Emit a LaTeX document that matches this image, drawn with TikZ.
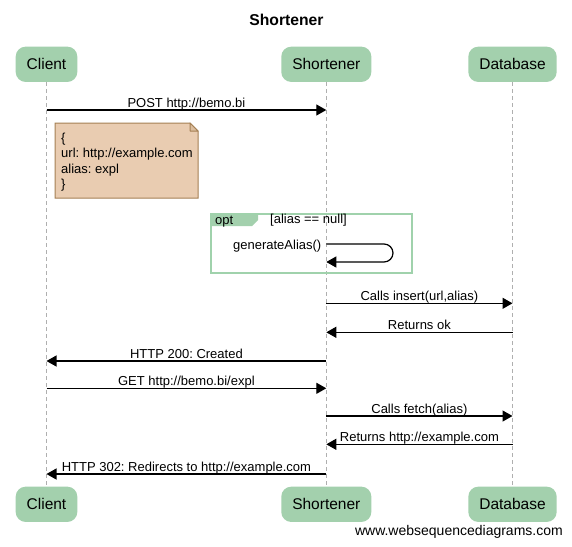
\documentclass[tikz,border=0pt]{standalone}
\usepackage{fontspec}
\setmainfont{Liberation Sans}
\usetikzlibrary{arrows.meta}
\frenchspacing
\definecolor{partgreen}{RGB}{163,208,173}
\definecolor{notefill}{RGB}{233,204,177}
\definecolor{notedraw}{RGB}{165,128,84}
\definecolor{optgreen}{RGB}{160,210,172}
\definecolor{lifegray}{RGB}{175,175,175}
\tikzset{
  part/.style={fill=partgreen, draw=none, rounded corners=10pt, minimum height=35.3pt,
    inner xsep=11pt, font=\fontsize{15.5}{18}\selectfont},
  life/.style={draw=lifegray, line width=0.9pt, dash pattern=on 4pt off 3pt},
  msg/.style={draw=black, line width=1.25pt, -{Triangle[length=10pt,width=11pt]}},
  msgfont/.style={font=\fontsize{13}{15.3}\selectfont},
  lbl/.style={midway, anchor=base, yshift=3pt, inner sep=0pt, msgfont},
  optbox/.style={draw=optgreen, line width=2pt},
  notebox/.style={draw=notedraw, line width=1pt, fill=notefill},
}
\begin{document}
\frenchspacing
\begin{tikzpicture}[x=1pt,y=-1pt]
\fill[white] (0,0) rectangle (572,546);
\useasboundingbox (0,0) rectangle (572,546);

\node[font=\bfseries\fontsize{15.7}{18}\selectfont] (title) at (286.5,20) {Shortener};

% participants
\node[part] (cT) at (46.5,64.3) {Client};
\node[part] (sT) at (326.3,64.3) {Shortener};
\node[part] (dT) at (512.5,64.3) {Database};
\node[part] (cB) at (46.5,504.3) {Client};
\node[part] (sB) at (326.3,504.3) {Shortener};
\node[part] (dB) at (512.5,504.3) {Database};

% lifelines
\draw[life] (cT.south) -- (cB.north);
\draw[life] (sT.south) -- (sB.north);
\draw[life] (dT.south) -- (dB.north);

% POST
\draw[msg] (cT |- 0,110) -- node[lbl] {POST http://bemo.bi} (sT |- 0,110);

% note
\draw[notebox] (55,123) -- (190,123) -- (198,131) -- (198,198) -- (55,198) -- cycle;
\draw[notebox, fill=notefill!80!notedraw, line join=round] (190,123) -- (190,131) -- (198,131) -- cycle;
\node[anchor=north west, align=left, inner sep=0pt, msgfont] (note) at (61,133)
  {\{\\url: http://example.com\\alias: expl\\\}};

% opt fragment
\fill[partgreen] (211,214) -- (258,214) -- (258,220) -- (252,226) -- (211,226) -- cycle;
\draw[optbox] (211,214) rectangle (412,273);
\node[anchor=base west, inner sep=0pt, msgfont] (optlbl) at (215,224.3) {opt};
\node[anchor=base west, inner sep=0pt, msgfont] (guard) at (270,223.5) {[alias == null]};
\node[anchor=base east, inner sep=0pt, msgfont] (gen) at (321.5,249.6) {generateAlias()};
\draw[msg, rounded corners=9pt] (sT |- 0,244) -- (393,244) -- (393,262) -- (sT |- 0,262);

% messages
\draw[msg] (sT |- 0,303.3) -- node[lbl] {Calls insert(url,alias)} (dT |- 0,303.3);
\draw[msg] (dT |- 0,332.3) -- node[lbl] {Returns ok} (sT |- 0,332.3);
\draw[msg] (sT |- 0,361) -- node[lbl] {HTTP 200: Created} (cT |- 0,361);
\draw[msg] (cT |- 0,388.3) -- node[lbl] {GET http://bemo.bi/expl} (sT |- 0,388.3);
\draw[msg] (sT |- 0,416) -- node[lbl] {Calls fetch(alias)} (dT |- 0,416);
\draw[msg] (dT |- 0,444.3) -- node[lbl] {Returns http://example.com} (sT |- 0,444.3);
\draw[msg] (sT |- 0,474) -- node[lbl] {HTTP 302: Redirects to http://example.com} (cT |- 0,474);

% watermark
\node[anchor=base east, inner sep=0pt, font=\fontsize{14}{16}\selectfont] (wm) at (563,535) {www.websequencediagrams.com};
\end{tikzpicture}
\end{document}
